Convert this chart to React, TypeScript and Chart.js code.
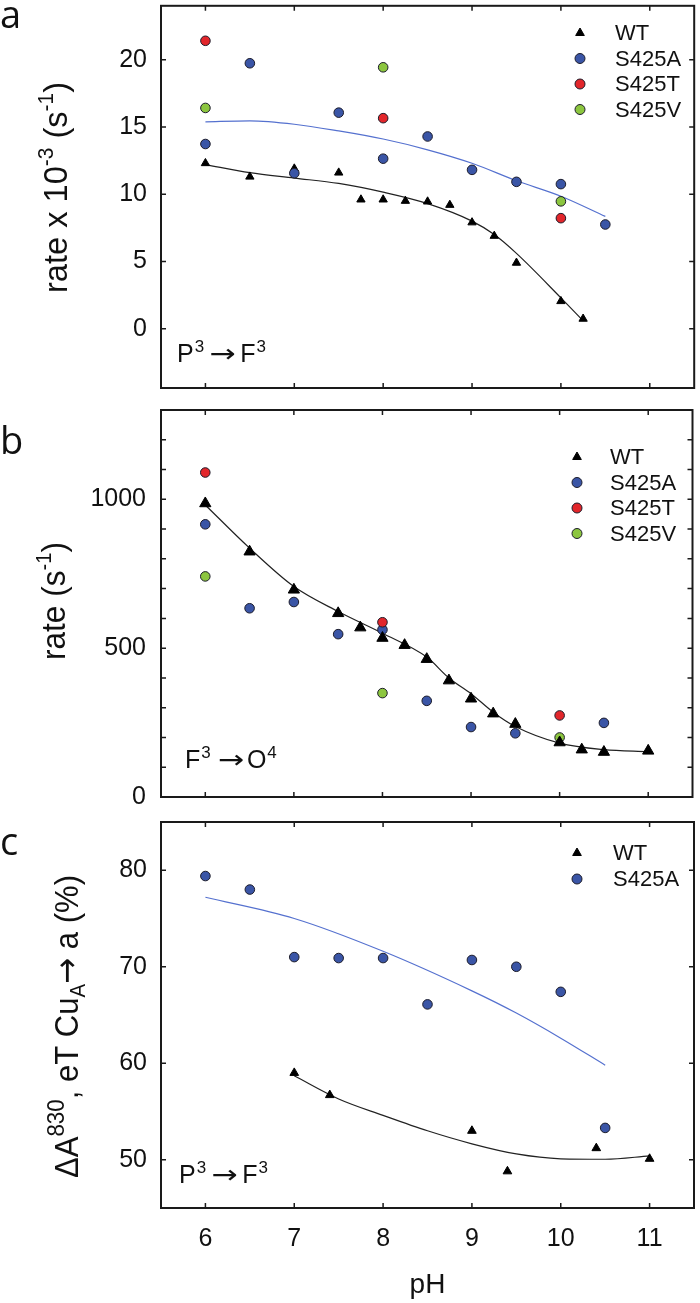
import React, { useEffect, useRef } from "react";
import { Chart, registerables } from "chart.js";
Chart.register(...registerables);

// ---------------- Data ----------------
const phTicks = [6, 7, 8, 9, 10, 11];

// Panel a: P3 -> F3 rate x 10-3 (s-1)
const aWtPH = [6, 6.5, 7, 7.5, 7.75, 8, 8.25, 8.5, 8.75, 9, 9.25, 9.5, 10, 10.25];
const aWtRate = [12.3, 11.3, 11.9, 11.6, 9.6, 9.6, 9.5, 9.45, 9.2, 7.9, 6.9, 4.9, 2.05, 0.74];
const aS425aPH = [6, 6.5, 7, 7.5, 8, 8.5, 9, 9.5, 10, 10.5];
const aS425aRate = [13.73, 19.73, 11.56, 16.06, 12.64, 14.29, 11.81, 10.92, 10.75, 7.75];
const aS425tPH = [6, 8, 10];
const aS425tRate = [21.4, 15.65, 8.22];
const aS425vPH = [6, 8, 10];
const aS425vRate = [16.41, 19.43, 9.47];
const aWtFitPH = [6, 6.5, 7, 7.5, 8, 8.5, 9, 9.25, 9.5, 10, 10.25];
const aWtFitRate = [12.2, 11.6, 11.2, 10.8, 10.15, 9.3, 8.0, 7.0, 5.6, 2.3, 0.6];
const aS425aFitPH = [6, 6.5, 7, 7.5, 8, 8.5, 9, 9.5, 10, 10.5];
const aS425aFitRate = [15.38, 15.45, 15.2, 14.7, 14.1, 13.3, 12.3, 11.0, 9.85, 8.35];
const aYTicks = [0, 5, 10, 15, 20];

// Panel b: F3 -> O4 rate (s-1)
const bWtPH = [6, 6.5, 7, 7.5, 7.75, 8, 8.25, 8.5, 8.75, 9, 9.25, 9.5, 10, 10.25, 10.5, 11];
const bWtRate = [986, 824, 696, 617, 569, 534, 510, 463, 391, 330, 280, 245, 183, 159, 151, 155];
const bS425aPH = [6, 6.5, 7, 7.5, 8, 8.5, 9, 9.5, 10.5];
const bS425aRate = [916, 634, 655, 547, 562, 323, 235, 214, 249];
const bS425tPH = [6, 8, 10];
const bS425tRate = [1090, 587, 274];
const bS425vPH = [6, 8, 10];
const bS425vRate = [741, 349, 200];
const bWtFitPH = [6, 6.5, 7, 7.5, 8, 8.5, 8.75, 9, 9.25, 9.5, 10, 10.5, 11];
const bWtFitRate = [981, 836, 707, 623, 550, 470, 400, 347, 285, 237, 181, 159, 152];
const bYTicks = [0, 100, 200, 300, 400, 500, 600, 700, 800, 900, 1000, 1100, 1200, 1300];
const bYLabels = [0, 500, 1000];

// Panel c: ΔA830, eT CuA -> a (%)
const cS425aPH = [6, 6.5, 7, 7.5, 8, 8.5, 9, 9.5, 10, 10.5];
const cS425aPct = [79.4, 78.0, 71.0, 70.9, 70.9, 66.1, 70.7, 70.0, 67.4, 53.3];
const cWtPH = [7, 7.4, 9, 9.4, 10.4, 11];
const cWtPct = [59.0, 56.7, 53.0, 48.8, 51.2, 50.1];
const cS425aFitPH = [6, 7, 8, 9, 9.5, 10, 10.5];
const cS425aFitPct = [77.2, 75.0, 71.6, 67.5, 65.2, 62.6, 59.8];
const cWtFitPH = [7, 7.5, 8, 8.5, 9, 9.5, 10, 10.5, 11];
const cWtFitPct = [58.7, 56.3, 54.6, 53.0, 51.65, 50.6, 50.1, 50.05, 50.4];
const cYTicks = [50, 60, 70, 80];

// ---------------- Styling ----------------
const FONT = '"Liberation Sans", Arial, Helvetica, sans-serif';
const ARROW_FONT = '"DejaVu Sans", sans-serif';
const INK = "#111111";
const BLUE = "#3a55a6";
const RED = "#e2262b";
const GREEN = "#8cc63f";
const BLUE_LINE = "#5571cf";
const TL = 5;

type Run = { t: string; s?: "sup" | "sub"; gap?: number; f?: string; sx?: number; k?: number };

const pts = (xs: number[], ys: number[]) => xs.map((x, i) => ({ x, y: ys[i] }));

function drawRuns(
  ctx: CanvasRenderingContext2D,
  runs: Run[],
  x: number,
  y: number,
  size: number,
  opts: { rotate?: boolean; align?: "left" | "center"; length?: number; small?: number }
) {
  ctx.save();
  const small = opts.small ?? 0.6;
  const sizeOf = (r: Run) => (r.s ? size * (r.k ?? small) : size);
  const fontOf = (r: Run) => `${sizeOf(r)}px ${r.f ?? FONT}`;
  const widths = runs.map((r) => {
    ctx.font = fontOf(r);
    return ctx.measureText(r.t).width * (r.sx ?? 1) + (r.gap ?? 0);
  });
  const total = widths.reduce((a, b) => a + b, 0);
  const k = opts.length ? opts.length / total : 1;
  ctx.translate(x, y);
  if (opts.rotate) ctx.rotate(-Math.PI / 2);
  ctx.scale(k, 1);
  let cx = opts.align === "center" ? -total / 2 : 0;
  ctx.textBaseline = "alphabetic";
  ctx.textAlign = "left";
  ctx.fillStyle = INK;
  runs.forEach((r, i) => {
    ctx.font = fontOf(r);
    const dy = r.s === "sup" ? -0.42 * size : r.s === "sub" ? 0.22 * size : 0;
    ctx.save();
    ctx.translate(cx + (r.gap ?? 0), dy);
    ctx.scale(r.sx ?? 1, 1);
    ctx.fillText(r.t, 0, 0);
    ctx.restore();
    cx += widths[i];
  });
  ctx.restore();
}

function drawMarker(ctx: CanvasRenderingContext2D, style: string, x: number, y: number, r: number, fill: string, stroke: string) {
  ctx.beginPath();
  if (style === "triangle") {
    ctx.moveTo(x, y - r);
    ctx.lineTo(x + r * 0.866, y + r * 0.5);
    ctx.lineTo(x - r * 0.866, y + r * 0.5);
    ctx.closePath();
  } else {
    ctx.arc(x, y, r, 0, Math.PI * 2);
  }
  ctx.fillStyle = fill;
  ctx.fill();
  ctx.lineWidth = 1;
  ctx.strokeStyle = stroke;
  ctx.stroke();
}

interface PanelCfg {
  key: string;
  canvasTop: number;
  canvasHeight: number;
  areaTop: number;
  areaBottom: number;
  yMin: number;
  yMax: number;
  yTicks: number[];
  yLabels: number[];
  yPad: number;
  showX: boolean;
  datasets: any[];
  legendItems: number[];
  legendMX: number;
  legendTX: number;
  legendYs: number[];
  letter: string;
  letterY: number;
  yTitle: Run[];
  yTitleX: number;
  yTitleCY: number;
  yTitleLen: number;
  note: Run[];
  noteX: number;
  noteY: number;
}

function triSet(label: string, xs: number[], ys: number[], r: number, order: number) {
  return {
    type: "scatter",
    label,
    data: pts(xs, ys),
    pointStyle: "triangle",
    pointRadius: r,
    backgroundColor: "#000000",
    borderColor: "#000000",
    borderWidth: 1,
    order,
  };
}
function dotSet(label: string, xs: number[], ys: number[], color: string, order: number) {
  return {
    type: "scatter",
    label,
    data: pts(xs, ys),
    pointStyle: "circle",
    pointRadius: 4.8,
    backgroundColor: color,
    borderColor: "#1c1c2a",
    borderWidth: 1,
    order,
  };
}
function fitSet(xs: number[], ys: number[], color: string) {
  return {
    type: "line",
    label: "fit",
    data: pts(xs, ys),
    borderColor: color,
    borderWidth: 1.2,
    pointRadius: 0,
    fill: false,
    cubicInterpolationMode: "monotone",
    order: 20,
  };
}

const ARROW: Run = { t: "\u2192", f: ARROW_FONT, sx: 1.25, gap: 5 };
const P3F3: Run[] = [{ t: "P" }, { t: "3", s: "sup", gap: 1 }, ARROW, { t: "F", gap: 5 }, { t: "3", s: "sup", gap: 1 }];
const F3O4: Run[] = [{ t: "F" }, { t: "3", s: "sup", gap: 1 }, { ...ARROW, gap: 7 }, { t: "O", gap: 3 }, { t: "4", s: "sup", gap: 1 }];

const panels: PanelCfg[] = [
  {
    key: "a",
    canvasTop: 0,
    canvasHeight: 400,
    areaTop: 4,
    areaBottom: 388,
    yMin: -4.4,
    yMax: 24,
    yTicks: aYTicks,
    yLabels: aYTicks,
    yPad: 14,
    showX: false,
    datasets: [
      triSet("WT", aWtPH, aWtRate, 4.8, 6),
      dotSet("S425A", aS425aPH, aS425aRate, BLUE, 4),
      dotSet("S425T", aS425tPH, aS425tRate, RED, 3),
      dotSet("S425V", aS425vPH, aS425vRate, GREEN, 2),
      fitSet(aWtFitPH, aWtFitRate, "#222222"),
      fitSet(aS425aFitPH, aS425aFitRate, BLUE_LINE),
    ],
    legendItems: [0, 1, 2, 3],
    legendMX: 580,
    legendTX: 615,
    legendYs: [33, 58.5, 84, 109.5],
    letter: "a",
    letterY: 28,
    yTitle: [{ t: "rate x 10" }, { t: "-3", s: "sup", k: 0.64 }, { t: " (s" }, { t: "-1", s: "sup", k: 0.64 }, { t: ")" }],
    yTitleX: 67,
    yTitleCY: 187.5,
    yTitleLen: 211,
    note: P3F3,
    noteX: 177,
    noteY: 362,
  },
  {
    key: "b",
    canvasTop: 400,
    canvasHeight: 410,
    areaTop: 410,
    areaBottom: 797,
    yMin: 0,
    yMax: 1300,
    yTicks: bYTicks,
    yLabels: bYLabels,
    yPad: 15,
    showX: false,
    datasets: [
      triSet("WT", bWtPH, bWtRate, 6.5, 1),
      dotSet("S425A", bS425aPH, bS425aRate, BLUE, 4),
      dotSet("S425T", bS425tPH, bS425tRate, RED, 3),
      dotSet("S425V", bS425vPH, bS425vRate, GREEN, 2),
      fitSet(bWtFitPH, bWtFitRate, "#222222"),
    ],
    legendItems: [0, 1, 2, 3],
    legendMX: 577,
    legendTX: 610,
    legendYs: [457, 482.5, 508, 533.5],
    letter: "b",
    letterY: 454,
    yTitle: [{ t: "rate (s" }, { t: "-1", s: "sup", k: 0.64 }, { t: ")" }],
    yTitleX: 65,
    yTitleCY: 601,
    yTitleLen: 118,
    note: F3O4,
    noteX: 185,
    noteY: 768,
  },
  {
    key: "c",
    canvasTop: 810,
    canvasHeight: 493,
    areaTop: 822,
    areaBottom: 1208,
    yMin: 45,
    yMax: 85,
    yTicks: cYTicks,
    yLabels: cYTicks,
    yPad: 14,
    showX: true,
    datasets: [
      triSet("WT", cWtPH, cWtPct, 5, 5),
      dotSet("S425A", cS425aPH, cS425aPct, BLUE, 4),
      fitSet(cWtFitPH, cWtFitPct, "#222222"),
      fitSet(cS425aFitPH, cS425aFitPct, BLUE_LINE),
    ],
    legendItems: [0, 1],
    legendMX: 577,
    legendTX: 613,
    legendYs: [853, 879],
    letter: "c",
    letterY: 855,
    yTitle: [
      { t: "\u0394A" },
      { t: "830", s: "sup", k: 0.72 },
      { t: ", eT Cu" },
      { t: "A", s: "sub", k: 0.66 },
      { t: "\u2192", f: ARROW_FONT },
      { t: " a (%)" },
    ],
    yTitleX: 78,
    yTitleCY: 1026.5,
    yTitleLen: 303,
    note: P3F3,
    noteX: 179,
    noteY: 1183,
  },
];

function decorPlugin(cfg: PanelCfg) {
  return {
    id: "decor_" + cfg.key,
    afterDraw(chart: any) {
      const { ctx, chartArea: ca, scales } = chart;
      const xs = scales.x;
      const ys = scales.y;
      const off = cfg.canvasTop;
      ctx.save();
      // frame
      ctx.strokeStyle = "#1a1a1a";
      ctx.lineWidth = 2;
      ctx.strokeRect(ca.left, ca.top, ca.right - ca.left, ca.bottom - ca.top);
      // inward ticks
      ctx.lineWidth = 1.5;
      ctx.beginPath();
      phTicks.forEach((v) => {
        const px = xs.getPixelForValue(v);
        ctx.moveTo(px, ca.bottom);
        ctx.lineTo(px, ca.bottom - TL);
        ctx.moveTo(px, ca.top);
        ctx.lineTo(px, ca.top + TL);
      });
      cfg.yTicks.forEach((v) => {
        const py = ys.getPixelForValue(v);
        ctx.moveTo(ca.left, py);
        ctx.lineTo(ca.left + TL, py);
        ctx.moveTo(ca.right, py);
        ctx.lineTo(ca.right - TL, py);
      });
      ctx.stroke();
      // legend
      cfg.legendItems.forEach((idx, i) => {
        const ds = chart.data.datasets[idx];
        const y = cfg.legendYs[i] - off;
        drawMarker(ctx, ds.pointStyle, cfg.legendMX, y, 5, ds.backgroundColor, ds.borderColor);
        ctx.font = `22px ${FONT}`;
        ctx.fillStyle = INK;
        ctx.textAlign = "left";
        ctx.textBaseline = "middle";
        ctx.fillText(ds.label, cfg.legendTX, y + 1);
      });
      // panel letter
      ctx.font = `38px "Open Sans", sans-serif`;
      ctx.fillStyle = INK;
      ctx.textAlign = "left";
      ctx.textBaseline = "alphabetic";
      ctx.fillText(cfg.letter, 0, cfg.letterY - off);
      // axis title & annotation
      drawRuns(ctx, cfg.yTitle, cfg.yTitleX, cfg.yTitleCY - off, 34, { rotate: true, align: "center", length: cfg.yTitleLen });
      drawRuns(ctx, cfg.note, cfg.noteX, cfg.noteY - off, 25, { align: "left", small: 0.68 });
      ctx.restore();
    },
  };
}

function buildConfig(cfg: PanelCfg): any {
  const xHeight = cfg.canvasTop + cfg.canvasHeight - cfg.areaBottom;
  return {
    type: "scatter",
    data: { datasets: cfg.datasets },
    options: {
      animation: false,
      responsive: false,
      maintainAspectRatio: false,
      events: [],
      layout: { padding: { left: 0, right: 3, top: cfg.areaTop - cfg.canvasTop, bottom: 0 } },
      plugins: { legend: { display: false }, tooltip: { enabled: false } },
      scales: {
        x: {
          type: "linear",
          min: 5.5,
          max: 11.5,
          grid: { display: false, drawTicks: false },
          border: { display: false },
          afterBuildTicks: (s: any) => {
            s.ticks = phTicks.map((v) => ({ value: v }));
          },
          ticks: {
            display: cfg.showX,
            autoSkip: false,
            maxRotation: 0,
            padding: 16,
            color: INK,
            font: { family: FONT, size: 25 },
            callback: (v: any) => String(v),
          },
          title: {
            display: cfg.showX,
            text: "pH",
            color: INK,
            font: { family: FONT, size: 28 },
            padding: { top: 0, bottom: 1 },
          },
          afterFit: (s: any) => {
            s.height = xHeight;
            s.paddingLeft = 0;
            s.paddingRight = 0;
          },
        },
        y: {
          type: "linear",
          min: cfg.yMin,
          max: cfg.yMax,
          grid: { display: false, drawTicks: false },
          border: { display: false },
          afterBuildTicks: (s: any) => {
            s.ticks = cfg.yTicks.map((v) => ({ value: v }));
          },
          ticks: {
            autoSkip: false,
            padding: cfg.yPad,
            color: INK,
            font: { family: FONT, size: 25 },
            callback: (v: any) => (cfg.yLabels.includes(v) ? String(v) : ""),
          },
          afterFit: (s: any) => {
            s.width = 161;
            s.paddingTop = 0;
            s.paddingBottom = 0;
          },
        },
      },
    },
    plugins: [decorPlugin(cfg)],
  };
}

function Panel({ cfg }: { cfg: PanelCfg }) {
  const ref = useRef<HTMLCanvasElement | null>(null);
  useEffect(() => {
    if (!ref.current) return;
    const chart = new Chart(ref.current, buildConfig(cfg));
    return () => chart.destroy();
  }, [cfg]);
  return (
    <canvas
      ref={ref}
      width={700}
      height={cfg.canvasHeight}
      style={{ position: "absolute", left: 0, top: cfg.canvasTop, width: 700, height: cfg.canvasHeight, display: "block" }}
    />
  );
}

export default function App() {
  return (
    <div style={{ position: "absolute", left: 0, top: 0, width: 700, height: 1303, background: "#ffffff", overflow: "hidden" }}>
      {panels.map((p) => (
        <Panel key={p.key} cfg={p} />
      ))}
    </div>
  );
}
